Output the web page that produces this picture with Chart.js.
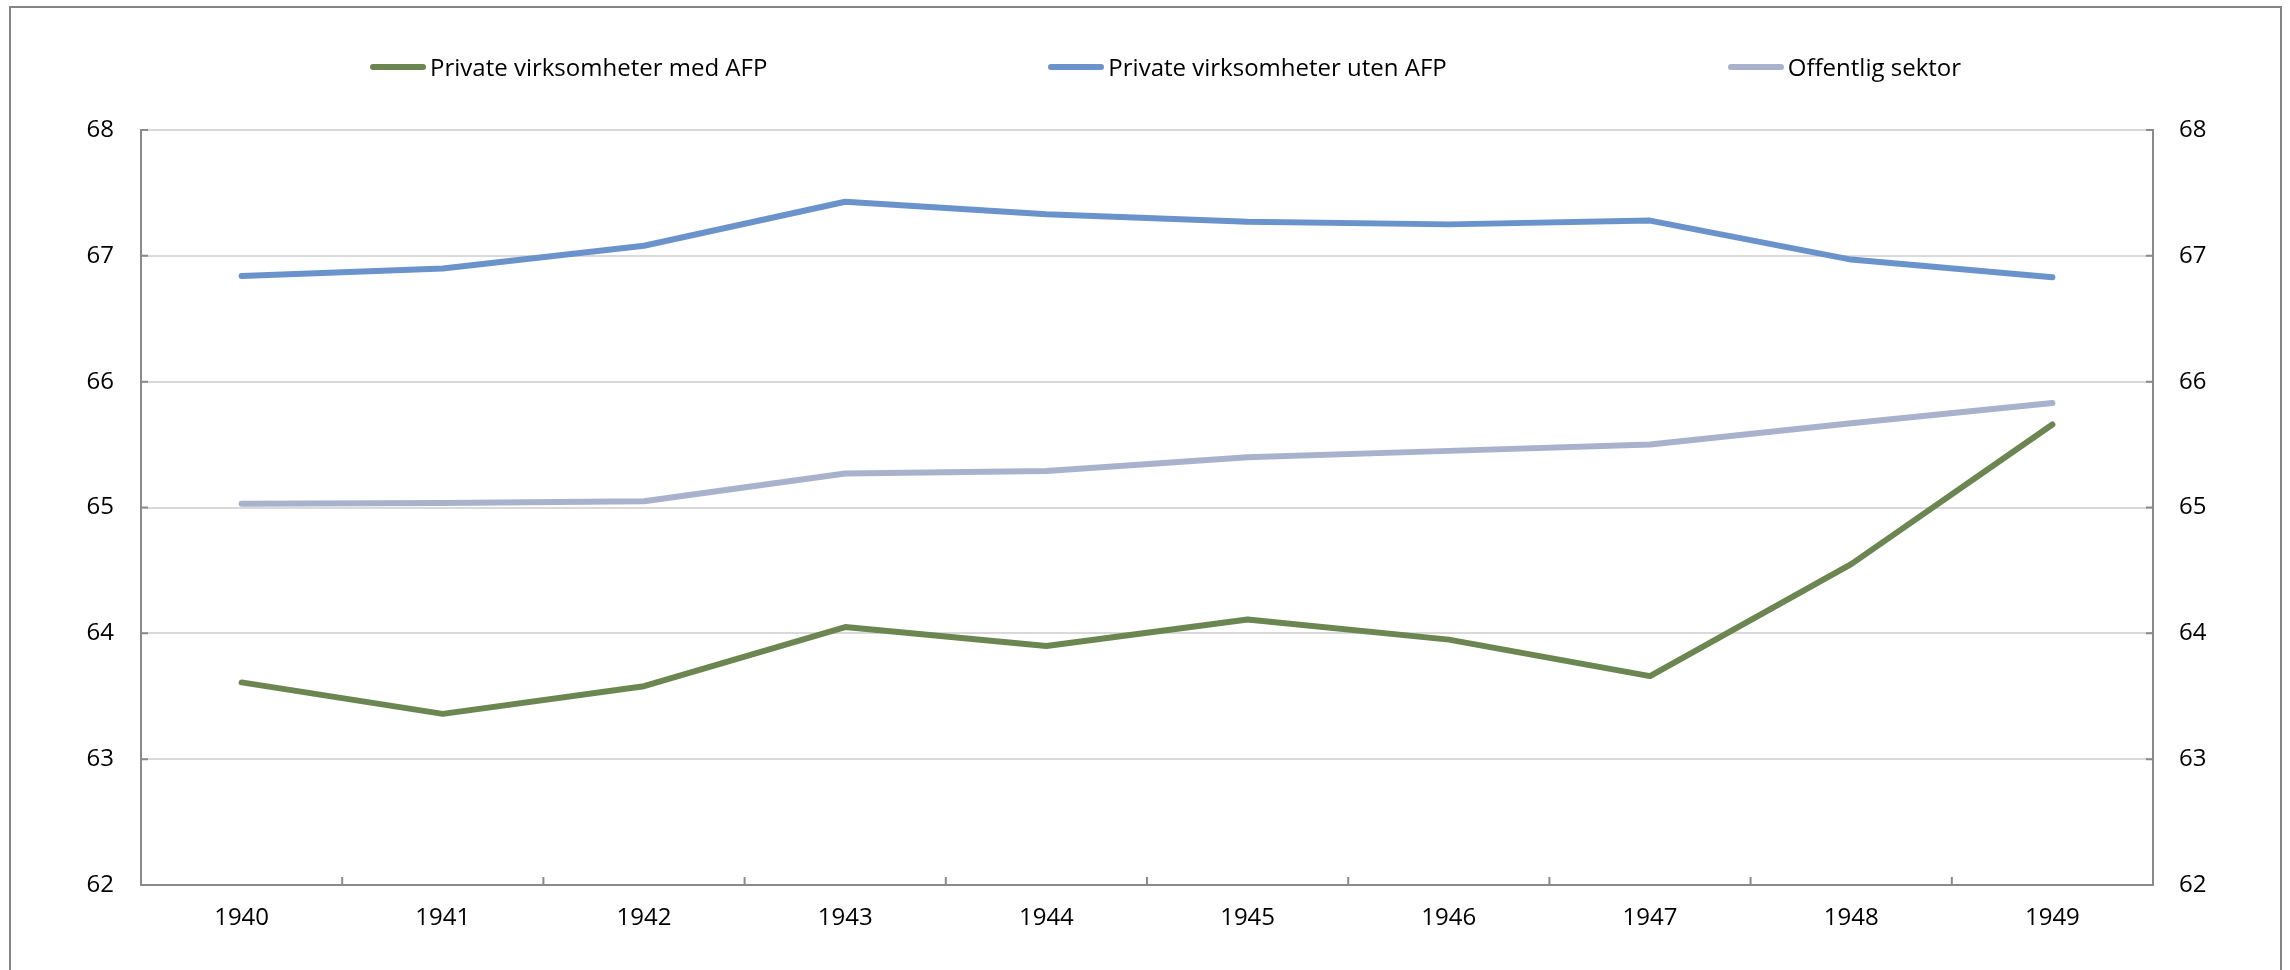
<!DOCTYPE html>
<html>
<head>
<meta charset="utf-8">
<script src="https://cdn.jsdelivr.net/npm/chart.js@4/dist/chart.umd.min.js"></script>
<style>
  html, body { margin: 0; padding: 0; background: #fff; }
  #wrap { position: relative; width: 2290px; height: 970px; overflow: hidden; }
  #frame { position: absolute; left: 9px; top: 6px; width: 2273px; height: 1000px; border: 2px solid #858585; box-sizing: border-box; }
  #legend { position: absolute; left: 370px; top: 52px; display: flex; gap: 281px; align-items: center;
            font-family: 'Open Sans', sans-serif; font-size: 24px; line-height: 30px; color: #000; }
  #legend .item { display: flex; align-items: center; white-space: nowrap; }
  #legend .swatch { width: 56px; height: 6px; border-radius: 3px; margin-right: 4px; }
</style>
</head>
<body>
<div id="wrap">
  <div id="frame"></div>
  <canvas id="chart_1"></canvas>
  <div id="legend"></div>
</div>
<script>
const years = ['1940', '1941', '1942', '1943', '1944', '1945', '1946', '1947', '1948', '1949'];
const seriesNames = ['Private virksomheter med AFP', 'Private virksomheter uten AFP', 'Offentlig sektor'];
const medAfp = [63.61, 63.36, 63.58, 64.05, 63.90, 64.11, 63.95, 63.66, 64.55, 65.66];
const utenAfp = [66.84, 66.90, 67.08, 67.43, 67.33, 67.27, 67.25, 67.28, 66.97, 66.83];
const offentlig = [65.03, 65.035, 65.05, 65.27, 65.29, 65.40, 65.45, 65.50, 65.67, 65.83];
const colors = ['#6B8650', '#6B93CB', '#A9B2CD'];
const yMin = 62, yMax = 68;

const fontFamily = "'Open Sans', sans-serif";
const axisColor = '#8a8a8a';

// Excel style tick marks pointing into the plot
const innerTicks = {
    id: 'innerTicks',
    beforeDatasetsDraw(chart) {
        const { ctx, chartArea: a, scales } = chart;
        ctx.save();
        ctx.strokeStyle = axisColor;
        ctx.lineWidth = 2;
        ctx.beginPath();
        for (let i = 1; i < years.length; i++) {
            const px = (scales.x.getPixelForValue(i - 1) + scales.x.getPixelForValue(i)) / 2;
            ctx.moveTo(px, a.bottom);
            ctx.lineTo(px, a.bottom - 8);
        }
        scales.y.ticks.forEach(t => {
            const py = scales.y.getPixelForValue(t.value);
            ctx.moveTo(a.left, py);
            ctx.lineTo(a.left + 7, py);
        });
        scales.y2.ticks.forEach(t => {
            const py = scales.y2.getPixelForValue(t.value);
            ctx.moveTo(a.right, py);
            ctx.lineTo(a.right - 7, py);
        });
        ctx.stroke();
        ctx.restore();
    }
};

const data = {
    labels: years,
    datasets: [medAfp, utenAfp, offentlig].map((values, i) => ({
        label: seriesNames[i],
        data: values,
        borderColor: colors[i],
        backgroundColor: colors[i],
        borderWidth: 6,
        borderCapStyle: 'round',
        borderJoinStyle: 'round',
        pointRadius: 0,
        tension: 0,
        yAxisID: 'y'
    }))
};

const tickFont = { family: fontFamily, size: 24 };

const config = {
    type: 'line',
    data: data,
    options: {
        responsive: false,
        animation: false,
        layout: { padding: { top: 130, left: 0, right: 0, bottom: 0 } },
        plugins: {
            legend: { display: false },
            tooltip: { enabled: false }
        },
        scales: {
            x: {
                offset: true,
                grid: { offset: true, drawOnChartArea: false, drawTicks: false },
                border: { color: axisColor, width: 2 },
                ticks: { color: '#000', font: tickFont, padding: 19, maxRotation: 0 },
                afterFit: s => { s.height = 85; }
            },
            y: {
                position: 'left',
                min: yMin,
                max: yMax,
                grid: { color: '#d9d9d9', lineWidth: 2, drawTicks: false },
                border: { color: axisColor, width: 2 },
                ticks: { stepSize: 1, color: '#000', font: tickFont, padding: 27 },
                afterFit: s => { s.width = 141; }
            },
            y2: {
                position: 'right',
                min: yMin,
                max: yMax,
                grid: { drawOnChartArea: false, drawTicks: false },
                border: { color: axisColor, width: 2 },
                ticks: { stepSize: 1, color: '#000', font: tickFont, padding: 26 },
                afterFit: s => { s.width = 137; }
            }
        }
    },
    plugins: [innerTicks]
};

const canvas = document.getElementById('chart_1');
canvas.style.position = 'absolute';
canvas.style.left = '0';
canvas.style.top = '0';
canvas.width = 2290;
canvas.height = 970;

const myChart = new Chart(canvas, config);

// legend built from the chart's datasets
const legend = document.getElementById('legend');
myChart.data.datasets.forEach(ds => {
    const item = document.createElement('div');
    item.className = 'item';
    const sw = document.createElement('span');
    sw.className = 'swatch';
    sw.style.background = ds.borderColor;
    const txt = document.createElement('span');
    txt.textContent = ds.label;
    item.appendChild(sw);
    item.appendChild(txt);
    legend.appendChild(item);
});
</script>
</body>
</html>
